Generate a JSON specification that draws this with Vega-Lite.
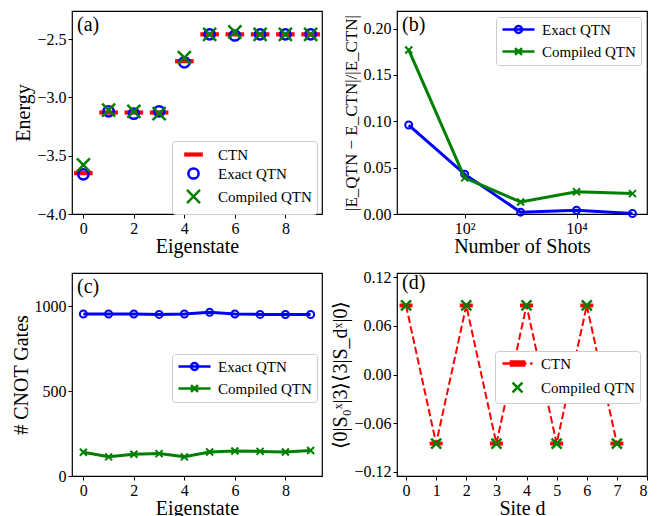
{
  "$schema": "https://vega.github.io/schema/vega-lite/v6.json",
  "padding": {"left": 10, "top": 10, "right": 5, "bottom": 0},
  "background": "white",
  "config": {
    "font": "Liberation Serif",
    "view": {"stroke": "black", "strokeWidth": 1.2},
    "axis": {"domain": false, "grid": false, "ticks": true, "tickSize": 4, "tickColor": "black", "tickWidth": 1,
      "labelFont": "Liberation Serif", "labelFontSize": 16, "labelColor": "black", "labelPadding": 2,
      "titleFont": "Liberation Serif", "titleFontSize": 20, "titleFontWeight": "normal", "titleColor": "black", "titlePadding": 3},
    "axisX": {"titlePadding": 0},
    "legend": {"labelFont": "Liberation Serif", "labelFontSize": 15, "labelColor": "black", "fillColor": "white",
      "strokeColor": "#cccccc", "cornerRadius": 3, "symbolOpacity": 1, "symbolStrokeWidth": 2.5, "padding": 5},
    "title": {"anchor": "start", "frame": "group", "font": "Liberation Serif", "fontSize": 20, "fontWeight": "normal", "color": "black", "offset": -24, "dx": 5}
  },
  "resolve": {
    "scale": {"stroke": "independent", "fill": "independent", "shape": "independent", "color": "independent"},
    "legend": {"stroke": "independent", "fill": "independent", "shape": "independent", "color": "independent"}
  },
  "datasets": {
    "a": [
      {"series": "CTN", "state": 0, "energy": -3.65}, {"series": "CTN", "state": 1, "energy": -3.13},
      {"series": "CTN", "state": 2, "energy": -3.13}, {"series": "CTN", "state": 3, "energy": -3.13},
      {"series": "CTN", "state": 4, "energy": -2.69}, {"series": "CTN", "state": 5, "energy": -2.46},
      {"series": "CTN", "state": 6, "energy": -2.46}, {"series": "CTN", "state": 7, "energy": -2.46},
      {"series": "CTN", "state": 8, "energy": -2.46}, {"series": "CTN", "state": 9, "energy": -2.46},
      {"series": "Exact QTN", "state": 0, "energy": -3.66}, {"series": "Exact QTN", "state": 1, "energy": -3.12},
      {"series": "Exact QTN", "state": 2, "energy": -3.14}, {"series": "Exact QTN", "state": 3, "energy": -3.12},
      {"series": "Exact QTN", "state": 4, "energy": -2.70}, {"series": "Exact QTN", "state": 5, "energy": -2.46},
      {"series": "Exact QTN", "state": 6, "energy": -2.47}, {"series": "Exact QTN", "state": 7, "energy": -2.46},
      {"series": "Exact QTN", "state": 8, "energy": -2.46}, {"series": "Exact QTN", "state": 9, "energy": -2.46},
      {"series": "Compiled QTN", "state": 0, "energy": -3.58}, {"series": "Compiled QTN", "state": 1, "energy": -3.11},
      {"series": "Compiled QTN", "state": 2, "energy": -3.12}, {"series": "Compiled QTN", "state": 3, "energy": -3.14},
      {"series": "Compiled QTN", "state": 4, "energy": -2.66}, {"series": "Compiled QTN", "state": 5, "energy": -2.46},
      {"series": "Compiled QTN", "state": 6, "energy": -2.44}, {"series": "Compiled QTN", "state": 7, "energy": -2.46},
      {"series": "Compiled QTN", "state": 8, "energy": -2.46}, {"series": "Compiled QTN", "state": 9, "energy": -2.46}
    ],
    "b": [
      {"series": "Exact QTN", "shots": 10, "err": 0.096}, {"series": "Exact QTN", "shots": 100, "err": 0.043},
      {"series": "Exact QTN", "shots": 1000, "err": 0.002}, {"series": "Exact QTN", "shots": 10000, "err": 0.004},
      {"series": "Exact QTN", "shots": 100000, "err": 0.0005},
      {"series": "Compiled QTN", "shots": 10, "err": 0.177}, {"series": "Compiled QTN", "shots": 100, "err": 0.039},
      {"series": "Compiled QTN", "shots": 1000, "err": 0.013}, {"series": "Compiled QTN", "shots": 10000, "err": 0.024},
      {"series": "Compiled QTN", "shots": 100000, "err": 0.022}
    ],
    "c": [
      {"series": "Exact QTN", "state": 0, "gates": 955}, {"series": "Exact QTN", "state": 1, "gates": 955},
      {"series": "Exact QTN", "state": 2, "gates": 955}, {"series": "Exact QTN", "state": 3, "gates": 953},
      {"series": "Exact QTN", "state": 4, "gates": 955}, {"series": "Exact QTN", "state": 5, "gates": 965},
      {"series": "Exact QTN", "state": 6, "gates": 955}, {"series": "Exact QTN", "state": 7, "gates": 953},
      {"series": "Exact QTN", "state": 8, "gates": 952}, {"series": "Exact QTN", "state": 9, "gates": 952},
      {"series": "Compiled QTN", "state": 0, "gates": 140}, {"series": "Compiled QTN", "state": 1, "gates": 113},
      {"series": "Compiled QTN", "state": 2, "gates": 128}, {"series": "Compiled QTN", "state": 3, "gates": 132},
      {"series": "Compiled QTN", "state": 4, "gates": 113}, {"series": "Compiled QTN", "state": 5, "gates": 142},
      {"series": "Compiled QTN", "state": 6, "gates": 147}, {"series": "Compiled QTN", "state": 7, "gates": 145},
      {"series": "Compiled QTN", "state": 8, "gates": 142}, {"series": "Compiled QTN", "state": 9, "gates": 150}
    ],
    "d": [
      {"series": "CTN", "site": 0, "corr": 0.085}, {"series": "CTN", "site": 1, "corr": -0.085},
      {"series": "CTN", "site": 2, "corr": 0.085}, {"series": "CTN", "site": 3, "corr": -0.085},
      {"series": "CTN", "site": 4, "corr": 0.085}, {"series": "CTN", "site": 5, "corr": -0.085},
      {"series": "CTN", "site": 6, "corr": 0.085}, {"series": "CTN", "site": 7, "corr": -0.085},
      {"series": "Compiled QTN", "site": 0, "corr": 0.085}, {"series": "Compiled QTN", "site": 1, "corr": -0.085},
      {"series": "Compiled QTN", "site": 2, "corr": 0.085}, {"series": "Compiled QTN", "site": 3, "corr": -0.085},
      {"series": "Compiled QTN", "site": 4, "corr": 0.085}, {"series": "Compiled QTN", "site": 5, "corr": -0.085},
      {"series": "Compiled QTN", "site": 6, "corr": 0.085}, {"series": "Compiled QTN", "site": 7, "corr": -0.085}
    ]
  },
  "columns": 2,
  "spacing": {"column": 75, "row": 59},
  "bounds": "flush",
  "align": "each",
  "concat": [
    {
      "width": 250, "height": 203,
      "title": {"text": "(a)"},
      "data": {"name": "a"},
      "mark": {"type": "point", "filled": false, "strokeWidth": 2.5, "size": 196, "opacity": 1},
      "encoding": {
        "x": {"field": "state", "type": "quantitative", "scale": {"domain": [-0.45, 9.45], "nice": false, "zero": false},
          "axis": {"values": [0, 2, 4, 6, 8], "format": "d", "title": "Eigenstate"}},
        "y": {"field": "energy", "type": "quantitative", "scale": {"domain": [-4.0, -2.26], "nice": false, "zero": false},
          "axis": {"values": [-4, -3.5, -3, -2.5], "format": ".1f", "title": "Energy"}},
        "stroke": {"field": "series", "type": "nominal",
          "scale": {"domain": ["CTN", "Exact QTN", "Compiled QTN"], "range": ["#ff0000", "#0000ff", "#008000"]},
          "legend": {"title": null, "orient": "none", "legendX": 100, "legendY": 130, "symbolSize": 196, "symbolOffset": 8, "labelOffset": 16, "rowPadding": 0}},
        "fill": {"field": "series", "type": "nominal",
          "scale": {"domain": ["CTN", "Exact QTN", "Compiled QTN"], "range": ["#ff0000", "transparent", "transparent"]},
          "legend": {"title": null, "orient": "none", "legendX": 100, "legendY": 130, "symbolSize": 196, "symbolOffset": 8, "labelOffset": 16, "rowPadding": 0}},
        "shape": {"field": "series", "type": "nominal",
          "scale": {"domain": ["CTN", "Exact QTN", "Compiled QTN"],
            "range": ["M-1.15,-0.12H1.15V0.12H-1.15Z", "M0.73,0A0.73,0.73,0,1,1,-0.73,0A0.73,0.73,0,1,1,0.73,0", "M-0.93,-0.93L0.93,0.93M-0.93,0.93L0.93,-0.93"]},
          "legend": {"title": null, "orient": "none", "legendX": 100, "legendY": 130, "symbolSize": 196, "symbolOffset": 8, "labelOffset": 16, "rowPadding": 0}}
      }
    },
    {
      "width": 250, "height": 203,
      "title": {"text": "(b)"},
      "data": {"name": "b"},
      "encoding": {
        "x": {"field": "shots", "type": "quantitative", "scale": {"type": "log", "domain": [6.17, 181970], "nice": false},
          "axis": {"values": [100, 10000], "labelExpr": "datum.value == 100 ? '10²' : '10⁴'", "title": "Number of Shots"}},
        "y": {"field": "err", "type": "quantitative", "scale": {"domain": [0, 0.219], "nice": false},
          "axis": {"values": [0, 0.05, 0.1, 0.15, 0.2], "format": ".2f", "title": "|E_QTN − E_CTN|/|E_CTN|", "titleFontSize": 17}}
      },
      "layer": [
        {"transform": [{"filter": "datum.series === 'Exact QTN'"}], "mark": {"type": "line", "color": "#0000ff", "strokeWidth": 3}, "encoding": {}},
        {"transform": [{"filter": "datum.series === 'Exact QTN'"}], "mark": {"type": "point", "shape": "circle", "size": 49, "filled": false, "color": "#0000ff", "strokeWidth": 2, "opacity": 1}},
        {"transform": [{"filter": "datum.series === 'Compiled QTN'"}], "mark": {"type": "line", "color": "#008000", "strokeWidth": 3}, "encoding": {}},
        {"transform": [{"filter": "datum.series === 'Compiled QTN'"}], "mark": {"type": "point", "shape": "M-1,-1L1,1M-1,1L1,-1", "size": 49, "filled": false, "color": "#008000", "strokeWidth": 2, "opacity": 1}},
        {"mark": {"type": "point", "filled": false, "opacity": 0},
          "encoding": {
            "stroke": {"field": "series", "type": "nominal", "scale": {"domain": ["Exact QTN", "Compiled QTN"], "range": ["#0000ff", "#008000"]},
              "legend": {"title": null, "orient": "none", "legendX": 99, "legendY": 6, "symbolSize": 144, "symbolOffset": 10, "labelOffset": 16, "rowPadding": 5,
                "encode": {"symbols": {"update": {"opacity": {"value": 1}}}}}},
            "shape": {"field": "series", "type": "nominal", "scale": {"domain": ["Exact QTN", "Compiled QTN"],
              "range": ["M-2.67,0H2.67M0.58,0A0.58,0.58,0,1,1,-0.58,0A0.58,0.58,0,1,1,0.58,0", "M-2.67,0H2.67M-0.58,-0.58L0.58,0.58M-0.58,0.58L0.58,-0.58"]},
              "legend": {"title": null, "orient": "none", "legendX": 99, "legendY": 6, "symbolSize": 144, "symbolOffset": 10, "labelOffset": 16, "rowPadding": 5,
                "encode": {"symbols": {"update": {"opacity": {"value": 1}}}}}}
          }}
      ]
    },
    {
      "width": 250, "height": 203,
      "title": {"text": "(c)"},
      "data": {"name": "c"},
      "encoding": {
        "x": {"field": "state", "type": "quantitative", "scale": {"domain": [-0.45, 9.45], "nice": false, "zero": false},
          "axis": {"values": [0, 2, 4, 6, 8], "format": "d", "title": "Eigenstate"}},
        "y": {"field": "gates", "type": "quantitative", "scale": {"domain": [0, 1197], "nice": false},
          "axis": {"values": [0, 500, 1000], "format": "d", "title": "# CNOT Gates"}}
      },
      "layer": [
        {"transform": [{"filter": "datum.series === 'Exact QTN'"}], "mark": {"type": "line", "color": "#0000ff", "strokeWidth": 3}, "encoding": {}},
        {"transform": [{"filter": "datum.series === 'Exact QTN'"}], "mark": {"type": "point", "shape": "circle", "size": 49, "filled": false, "color": "#0000ff", "strokeWidth": 2, "opacity": 1}},
        {"transform": [{"filter": "datum.series === 'Compiled QTN'"}], "mark": {"type": "line", "color": "#008000", "strokeWidth": 3}, "encoding": {}},
        {"transform": [{"filter": "datum.series === 'Compiled QTN'"}], "mark": {"type": "point", "shape": "M-1,-1L1,1M-1,1L1,-1", "size": 49, "filled": false, "color": "#008000", "strokeWidth": 2, "opacity": 1}},
        {"mark": {"type": "point", "filled": false, "opacity": 0},
          "encoding": {
            "stroke": {"field": "series", "type": "nominal", "scale": {"domain": ["Exact QTN", "Compiled QTN"], "range": ["#0000ff", "#008000"]},
              "legend": {"title": null, "orient": "none", "legendX": 100, "legendY": 81, "symbolSize": 144, "symbolOffset": 10, "labelOffset": 16, "rowPadding": 5,
                "encode": {"symbols": {"update": {"opacity": {"value": 1}}}}}},
            "shape": {"field": "series", "type": "nominal", "scale": {"domain": ["Exact QTN", "Compiled QTN"],
              "range": ["M-2.67,0H2.67M0.58,0A0.58,0.58,0,1,1,-0.58,0A0.58,0.58,0,1,1,0.58,0", "M-2.67,0H2.67M-0.58,-0.58L0.58,0.58M-0.58,0.58L0.58,-0.58"]},
              "legend": {"title": null, "orient": "none", "legendX": 100, "legendY": 81, "symbolSize": 144, "symbolOffset": 10, "labelOffset": 16, "rowPadding": 5,
                "encode": {"symbols": {"update": {"opacity": {"value": 1}}}}}}
          }}
      ]
    },
    {
      "width": 250, "height": 203,
      "title": {"text": "(d)"},
      "data": {"name": "d"},
      "encoding": {
        "x": {"field": "site", "type": "quantitative", "scale": {"domain": [-0.3, 8], "nice": false, "zero": false},
          "axis": {"values": [0, 1, 2, 3, 4, 5, 6, 7, 8], "format": "d", "title": "Site d"}},
        "y": {"field": "corr", "type": "quantitative", "scale": {"domain": [-0.125, 0.125], "nice": false, "zero": false},
          "axis": {"values": [-0.12, -0.06, 0, 0.06, 0.12], "format": ".2f", "title": "⟨0|S₀ˣ|3⟩⟨3|S_dˣ|0⟩"}}
      },
      "layer": [
        {"transform": [{"filter": "datum.series === 'CTN'"}], "mark": {"type": "line", "color": "#ff0000", "strokeWidth": 2, "strokeDash": [7.4, 3.2]}, "encoding": {}},
        {"transform": [{"filter": "datum.series === 'CTN'"}], "mark": {"type": "point", "shape": "M-1,-0.3H1V0.3H-1Z", "size": 169, "filled": true, "color": "#ff0000", "opacity": 1}},
        {"transform": [{"filter": "datum.series === 'Compiled QTN'"}], "mark": {"type": "point", "shape": "M-1,-1L1,1M-1,1L1,-1", "size": 100, "filled": false, "color": "#008000", "strokeWidth": 2.5, "opacity": 1}},
        {"mark": {"type": "point", "filled": false, "opacity": 0},
          "encoding": {
            "stroke": {"field": "series", "type": "nominal", "scale": {"domain": ["CTN", "Compiled QTN"], "range": ["#ff0000", "#008000"]},
              "legend": {"title": null, "orient": "none", "legendX": 98, "legendY": 78, "symbolSize": 144, "symbolOffset": 10, "labelOffset": 16, "rowPadding": 5,
                "encode": {"symbols": {"update": {"opacity": {"value": 1}}}}}},
            "fill": {"field": "series", "type": "nominal", "scale": {"domain": ["CTN", "Compiled QTN"], "range": ["#ff0000", "transparent"]},
              "legend": {"title": null, "orient": "none", "legendX": 98, "legendY": 78, "symbolSize": 144, "symbolOffset": 10, "labelOffset": 16, "rowPadding": 5,
                "encode": {"symbols": {"update": {"opacity": {"value": 1}}}}}},
            "shape": {"field": "series", "type": "nominal", "scale": {"domain": ["CTN", "Compiled QTN"],
              "range": ["M-2.5,0H1.5M2.1,0H2.5M-1.1,-0.35H1.1V0.35H-1.1Z", "M-0.83,-0.83L0.83,0.83M-0.83,0.83L0.83,-0.83"]},
              "legend": {"title": null, "orient": "none", "legendX": 98, "legendY": 78, "symbolSize": 144, "symbolOffset": 10, "labelOffset": 16, "rowPadding": 5,
                "encode": {"symbols": {"update": {"opacity": {"value": 1}}}}}}
          }}
      ]
    }
  ]
}
